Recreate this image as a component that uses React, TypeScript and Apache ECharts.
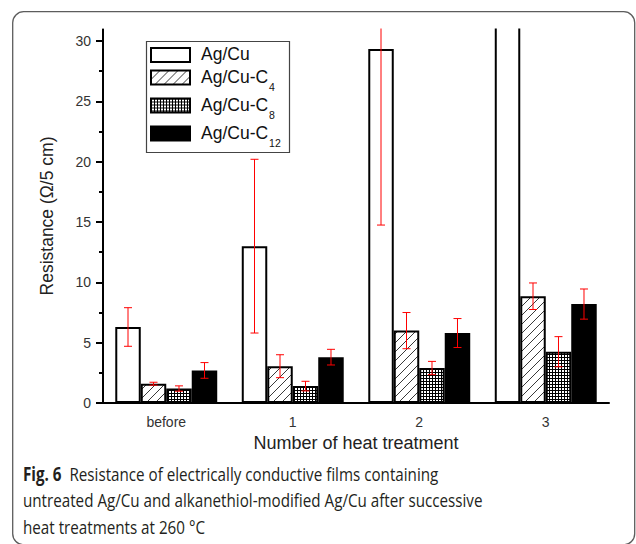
import React, { useEffect, useRef } from 'react';
import * as echarts from 'echarts';

// ---- data ----
const categories = ['before', '1', '2', '3'];
const seriesNames = ['Ag/Cu', 'Ag/Cu-C4', 'Ag/Cu-C8', 'Ag/Cu-C12'];
const legendSubs = ['', '4', '8', '12'];
const agCu = [6.3, 13.0, 29.35, 45];
const agCuErr = [1.6, 7.2, 14.6, 5];
const agCuC4 = [1.6, 3.05, 6.0, 8.85];
const agCuC4Err = [0.12, 0.95, 1.5, 1.1];
const agCuC8 = [1.2, 1.4, 2.9, 4.25];
const agCuC8Err = [0.22, 0.4, 0.55, 1.25];
const agCuC12 = [2.7, 3.8, 5.8, 8.2];
const agCuC12Err = [0.65, 0.65, 1.2, 1.25];
const yTicks = [0, 5, 10, 15, 20, 25, 30];
const yMinorTicks = [2.5, 7.5, 12.5, 17.5, 22.5, 27.5];
const yMax = 31;

const CAT_GAP = 0.194;
const FONT = "'Liberation Sans', Arial, sans-serif";
const CAP_FONT = "'Open Sans', 'Noto Sans', sans-serif";

function makeHatch(): string {
  const c = document.createElement('canvas');
  c.width = 9; c.height = 9;
  const g = c.getContext('2d')!;
  g.fillStyle = '#fff'; g.fillRect(0, 0, 9, 9);
  g.strokeStyle = '#222'; g.lineWidth = 0.9;
  const seg = (x1: number, y1: number, x2: number, y2: number) => {
    g.beginPath(); g.moveTo(x1, y1); g.lineTo(x2, y2); g.stroke();
  };
  seg(-1, 10, 10, -1);
  seg(-1, 1, 1, -1);
  seg(8, 10, 10, 8);
  return c.toDataURL();
}

function makeGrid(): string {
  const c = document.createElement('canvas');
  c.width = 3; c.height = 3;
  const g = c.getContext('2d')!;
  g.fillStyle = '#fff'; g.fillRect(0, 0, 3, 3);
  g.fillStyle = '#000';
  g.fillRect(0, 0, 3, 1);
  g.fillRect(0, 0, 1, 3);
  return c.toDataURL();
}

export default function App() {
  const ref = useRef<HTMLDivElement>(null);
  useEffect(() => {
    if (!ref.current) return;
    const chart = echarts.init(ref.current, undefined, { renderer: 'svg' });
    const hatch = { image: makeHatch(), repeat: 'repeat', imageWidth: 9, imageHeight: 9 } as any;
    const grid = { image: makeGrid(), repeat: 'repeat', imageWidth: 3, imageHeight: 3 } as any;
    const fills: any[] = ['#fff', hatch, grid, '#000'];
    const values = [agCu, agCuC4, agCuC8, agCuC12];
    const errs = [agCuErr, agCuC4Err, agCuC8Err, agCuC12Err];

    const barSeries = values.map((vals, k) => ({
      type: 'bar',
      name: seriesNames[k],
      data: vals,
      barGap: '0%',
      barCategoryGap: (CAT_GAP * 100).toFixed(1) + '%',
      clip: false,
      itemStyle: { color: fills[k], borderColor: '#000', borderWidth: 2 },
      z: 2,
    }));

    const errSeries = values.map((vals, k) => ({
      type: 'custom',
      name: seriesNames[k] + ' error',
      clip: false,
      silent: true,
      z: 5,
      data: vals.map((v, i) => [i, v, errs[k][i]]),
      encode: { x: 0, y: 1 },
      renderItem: (params: any, api: any) => {
        const ci = api.value(0);
        const v = api.value(1);
        const e = api.value(2);
        const band = api.size([1, 0])[0];
        const bw = (band * (1 - CAT_GAP)) / 4;
        const c = api.coord([ci, v]);
        const x = c[0] + (k - 1.5) * bw;
        const yHi = api.coord([ci, v + e])[1];
        const yLo = api.coord([ci, v - e])[1];
        const cap = 4;
        const st = { stroke: '#ff0000', lineWidth: 1 };
        return {
          type: 'group',
          children: [
            { type: 'line', shape: { x1: x, y1: yHi, x2: x, y2: yLo }, style: st },
            { type: 'line', shape: { x1: x - cap, y1: yHi, x2: x + cap, y2: yHi }, style: st },
            { type: 'line', shape: { x1: x - cap, y1: yLo, x2: x + cap, y2: yLo }, style: st },
          ],
        };
      },
    }));

    // legend drawn with graphics (subscripts)
    const rowCenters = [55, 77.5, 105.5, 133.5];
    const legendEls: any[] = [
      { id: 'lgbox', type: 'rect', x: 146.5, y: 41.5, shape: { x: 0, y: 0, width: 143, height: 111 }, style: { fill: '#fff', stroke: '#444', lineWidth: 1.2 }, z: 50 },
    ];
    seriesNames.forEach((nm, k) => {
      const cy = rowCenters[k];
      legendEls.push({
        id: 'lgicon' + k,
        type: 'rect', x: 151, y: cy - 7, shape: { x: 0, y: 0, width: 39, height: 14 },
        style: { fill: fills[k], stroke: '#000', lineWidth: 2 }, z: 51,
      });
      const base = legendSubs[k] ? nm.slice(0, nm.length - legendSubs[k].length) : nm;
      legendEls.push({
        id: 'lgtext' + k,
        type: 'text', x: 201, y: cy - 10, z: 51,
        style: {
          text: legendSubs[k] ? `{m|${base}}{s|${legendSubs[k]}}` : `{m|${base}}`,
          verticalAlign: 'top', align: 'left',
          rich: {
            m: { fontSize: 17.5, lineHeight: 20, verticalAlign: 'top', fontFamily: FONT, fill: '#111' },
            s: { fontSize: 10.5, lineHeight: 11, verticalAlign: 'top', padding: [13.5, 0, 0, 1], fontFamily: FONT, fill: '#111' },
          },
        },
      });
    });

    const option: any = {
      animation: false,
      backgroundColor: '#fff',
      textStyle: { fontFamily: FONT },
      grid: { left: 103, right: 27, top: 29, bottom: 141 },
      xAxis: {
        type: 'category',
        data: categories,
        axisLine: { lineStyle: { color: '#000', width: 2 } },
        axisTick: { alignWithLabel: true, length: 8, lineStyle: { color: '#000', width: 2 } },
        axisLabel: { fontSize: 14, color: '#333', margin: 12, fontFamily: FONT },
        name: 'Number of heat treatment',
        nameLocation: 'middle',
        nameGap: 31,
        nameTextStyle: { fontSize: 18, color: '#222', fontFamily: FONT },
      },
      yAxis: [
        {
          type: 'value', min: 0, max: yMax,
          axisLine: { show: true, lineStyle: { color: '#000', width: 2 } },
          axisTick: { show: true, length: 7, customValues: yTicks, lineStyle: { color: '#000', width: 2 } },
          axisLabel: { fontSize: 14, color: '#333', margin: 12, customValues: yTicks, fontFamily: FONT },
          splitLine: { show: false },
          name: 'Resistance (Ω/5 cm)',
          nameLocation: 'middle',
          nameGap: 47,
          nameTextStyle: { fontSize: 17.5, color: '#222', fontFamily: FONT },
        },
        {
          type: 'value', min: 0, max: yMax, position: 'left',
          axisLine: { show: false },
          axisTick: { show: true, length: 4, customValues: yMinorTicks, lineStyle: { color: '#000', width: 2 } },
          axisLabel: { show: false },
          splitLine: { show: false },
        },
      ],
      series: [...barSeries, ...errSeries],
      graphic: {
        elements: [
          // white band hiding everything that overflows above the plot top
          { id: 'cover', type: 'rect', x: 96, y: 0, shape: { x: 0, y: 0, width: 540, height: 28.5 }, style: { fill: '#ffffff' }, z: 100 },
          ...legendEls,
          {
            id: 'frame', type: 'rect', x: 12.7, y: 11.7, shape: { x: 0, y: 0, width: 622, height: 533, r: 11 },
            style: { fill: 'transparent', stroke: '#5c5c5c', lineWidth: 1.3 }, z: 110,
          },
          {
            id: 'caption', type: 'text', x: 23, y: 460, scaleX: 0.8, z: 110,
            style: {
              text: '{b|Fig. 6}  Resistance of electrically conductive films containing\nuntreated Ag/Cu and alkanethiol-modified Ag/Cu after successive\nheat treatments at 260 °C',
              fontSize: 19, fontFamily: CAP_FONT, fill: '#231f20', lineHeight: 26.7,
              verticalAlign: 'top', align: 'left',
              rich: { b: { fontSize: 19, fontWeight: 'bold', fontFamily: CAP_FONT, fill: '#231f20', lineHeight: 26.7 } },
            },
          },
        ],
      },
    };
    chart.setOption(option);
    return () => chart.dispose();
  }, []);
  return (
    <div ref={ref} style={{ position: 'fixed', left: 0, top: 0, width: 636, height: 544 }} />
  );
}
